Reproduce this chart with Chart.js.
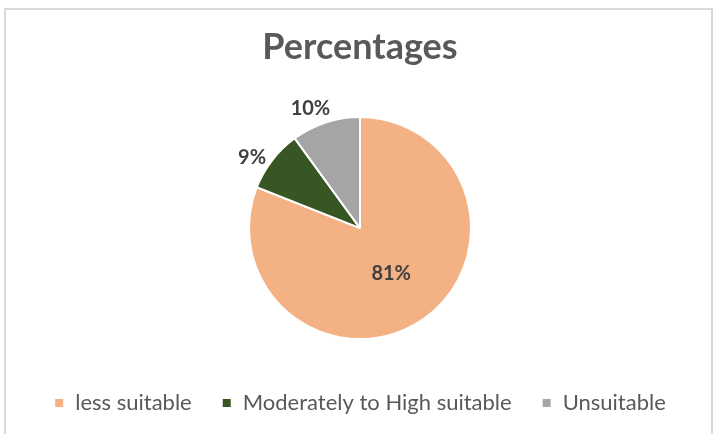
<!DOCTYPE html>
<html>
<head>
<meta charset="utf-8">
<script src="https://cdn.jsdelivr.net/npm/chart.js@4"></script>
<style>
  html, body { margin: 0; padding: 0; background: #fff; }
  #wrap { position: relative; width: 715px; height: 434px; }
  #frame { position: absolute; left: 4px; top: 8px; width: 705px; height: 440px;
           border: 2px solid #d9d9d9; pointer-events: none; }
</style>
</head>
<body>
<div id="wrap">
  <canvas id="myChart" width="715" height="434"></canvas>
  <div id="frame"></div>
</div>
<script>
const categorias = ['less suitable', 'Moderately to High suitable', 'Unsuitable'];
const valores = [81, 9, 10];
const cores = ['#F4B183', '#375623', '#A5A5A5'];
const rotulos = ['81%', '9%', '10%'];

// labels: first slice inside, the small ones outside
const rotuloPlugin = {
    id: 'rotulos',
    afterDatasetsDraw(chart) {
        const ctx = chart.ctx;
        const arcs = chart.getDatasetMeta(0).data;
        ctx.save();
        ctx.font = 'bold 20px Lato';
        ctx.fillStyle = '#404040';
        ctx.textAlign = 'center';
        ctx.textBaseline = 'middle';
        for (let i = 0; i < arcs.length; i++) {
            const a = arcs[i];
            let meio = (a.startAngle + a.endAngle) / 2;
            let r = a.outerRadius * 0.5;
            if (i > 0) {
                meio = meio - 0.08;
                r = a.outerRadius + 18;
            }
            let x = a.x + Math.cos(meio) * r;
            let y = a.y + Math.sin(meio) * r;
            ctx.fillText(rotulos[i], x, y);
        }
        ctx.restore();
    }
};

const ctx = document.getElementById('myChart');
const myChart = new Chart(ctx, {
    type: 'pie',
    data: {
        labels: categorias,
        datasets: [{
            data: valores,
            backgroundColor: cores,
            borderColor: '#ffffff',
            borderWidth: 2,
            radius: 111
        }]
    },
    options: {
        responsive: false,
        animation: false,
        layout: { padding: { left: 5, top: 0, bottom: 10 } },
        plugins: {
            title: {
                display: true,
                text: 'Percentages',
                color: '#595959',
                font: { family: 'Lato', size: 36, weight: 'bold' },
                padding: { top: 26, bottom: 25 }
            },
            legend: {
                position: 'bottom',
                labels: {
                    color: '#595959',
                    font: { family: 'Lato', size: 22 },
                    boxWidth: 10,
                    boxHeight: 10,
                    padding: 30
                }
            },
            tooltip: { enabled: false }
        }
    },
    plugins: [rotuloPlugin]
});
</script>
</body>
</html>
